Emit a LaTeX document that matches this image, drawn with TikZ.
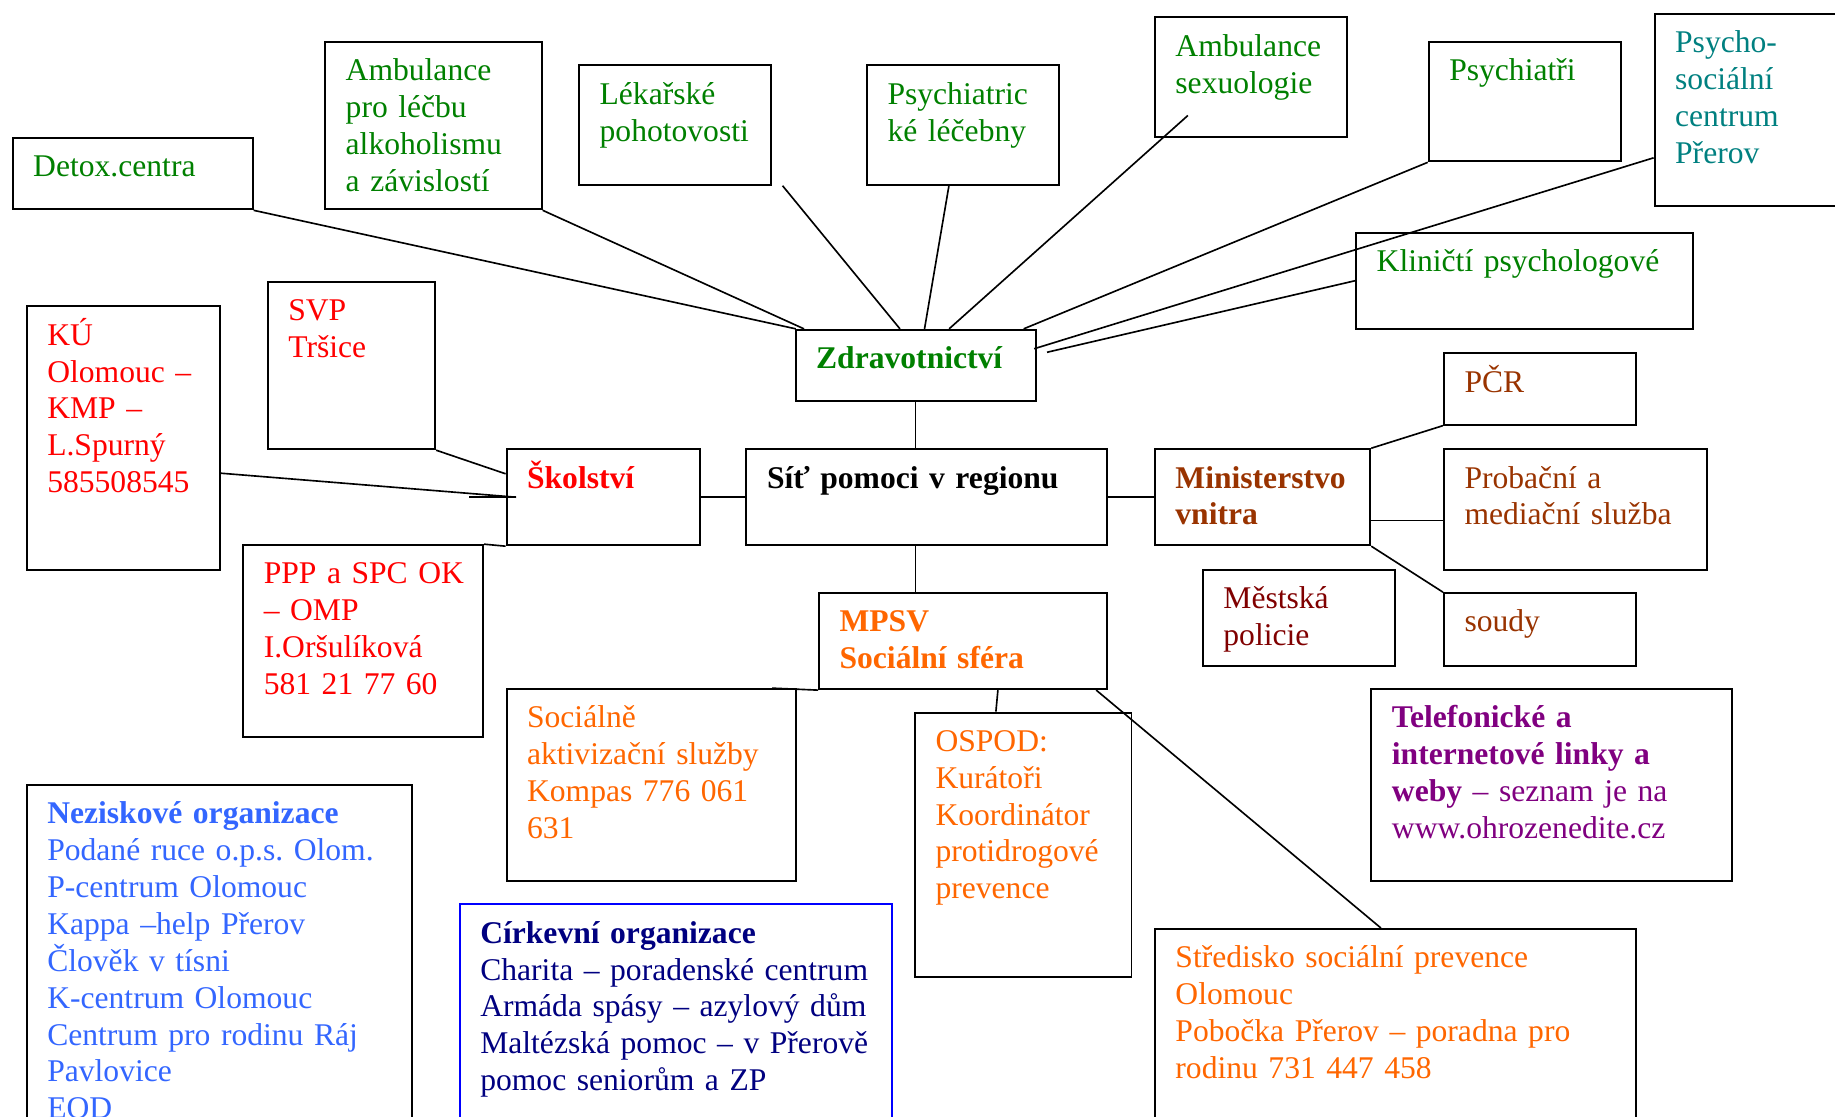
\documentclass[tikz,border=0pt]{standalone}
\usepackage{fontspec}
\setmainfont{Liberation Serif}[WordSpace=0.8]

\newcommand{\boxfont}{\fontsize{13.5pt}{15.75pt}\selectfont\frenchspacing}

\definecolor{zgreen}{HTML}{008000}
\definecolor{zteal}{HTML}{008080}
\definecolor{sred}{HTML}{FF0000}
\definecolor{sorange}{HTML}{FF6600}
\definecolor{mbrown}{HTML}{993300}
\definecolor{mmaroon}{HTML}{800000}
\definecolor{tpurple}{HTML}{800080}
\definecolor{nblue}{HTML}{3366FF}
\definecolor{cnavy}{HTML}{000080}
\definecolor{cblue}{HTML}{0000FF}

\begin{document}
\begin{tikzpicture}[x=0.5pt, y=-0.5pt,
  font=\boxfont,
  box/.style={draw, line width=0.85pt, anchor=north west, inner sep=0pt},
  sz/.style 2 args={minimum width=#1*0.5pt, minimum height=#2*0.5pt},
  lbl/.style={anchor=base west, inner sep=0pt, text width=200pt, align=left,
    xshift=9pt, yshift=-17pt},
  bold/.style={font=\boxfont\bfseries},
  link/.style={line width=0.7pt}]

  \useasboundingbox (0,0) rectangle (1568,954);
  \clip (0,0) rectangle (1568,954);

  % boxes of Zdravotnictvi
  \node[box, sz={205}{61}]  (detox)  at (10,117)   {};
  \node[box, sz={185}{143}] (alko)   at (277,35)   {};
  \node[box, sz={164}{102}] (lekar)  at (494,55)   {};
  \node[box, sz={164}{102}] (psyl)   at (740,55)   {};
  \node[box, sz={164}{102}] (sexu)   at (986,14)   {};
  \node[box, sz={164}{102}] (psychi) at (1220,35)  {};
  \node[box, sz={220}{164}] (psoc)   at (1413,11)  {};
  \node[box, sz={288}{82}]  (klin)   at (1158,198) {};
  \node[box, sz={205}{61}]  (zdrav)  at (679,281)  {};

  % Skolstvi
  \node[box, sz={143}{143}] (svp)  at (228,240) {};
  \node[box, sz={165}{225}] (ku)   at (22,261)  {};
  \node[box, sz={165}{82}]  (skol) at (432,383) {};
  \node[box, sz={205}{164}] (ppp)  at (207,465) {};

  % centre and Ministerstvo vnitra
  \node[box, sz={308}{82}]  (sit)   at (637,383)  {};
  \node[box, sz={184}{82}]  (mv)    at (986,383)  {};
  \node[box, sz={164}{61}]  (pcr)   at (1233,301) {};
  \node[box, sz={225}{103}] (prob)  at (1233,383) {};
  \node[box, sz={164}{82}]  (mpol)  at (1027,486) {};
  \node[box, sz={164}{62}]  (soudy) at (1233,506) {};

  % MPSV
  \node[box, sz={246}{82}]  (mpsv)  at (699,506)  {};
  \node[box, sz={247}{164}] (sas)   at (432,588)  {};
  \node[box, sz={185}{226}] (ospod) at (781,608)  {};
  \node[box, sz={411}{200}] (stred) at (986,793)  {};

  % the rest
  \node[box, sz={308}{164}] (tel)    at (1171,588) {};
  \node[box, sz={329}{300}] (nezisk) at (22,670)   {};
  \node[box, sz={369}{200}, draw=cblue] (cirk) at (392,772) {};

  % texts
  \node[lbl, text=zgreen] (detox-t)  at (detox.north west)  {Detox.centra};
  \node[lbl, text=zgreen] (alko-t)   at (alko.north west)   {Ambulance\\pro léčbu\\alkoholismu\\a závislostí};
  \node[lbl, text=zgreen] (lekar-t)  at (lekar.north west)  {Lékařské\\pohotovosti};
  \node[lbl, text=zgreen] (psyl-t)   at (psyl.north west)   {Psychiatric\\ké léčebny};
  \node[lbl, text=zgreen] (sexu-t)   at (sexu.north west)   {Ambulance\\sexuologie};
  \node[lbl, text=zgreen] (psychi-t) at (psychi.north west) {Psychiatři};
  \node[lbl, text=zteal]  (psoc-t)   at (psoc.north west)   {Psycho-\\sociální\\centrum\\Přerov};
  \node[lbl, text=zgreen] (klin-t)   at (klin.north west)   {Kliničtí psychologové};
  \node[lbl, bold, text=zgreen] (zdrav-t) at (zdrav.north west) {Zdravotnictví};

  \node[lbl, text=sred] (svp-t)  at (svp.north west)  {SVP\\Tršice};
  \node[lbl, text=sred] (ku-t)   at (ku.north west)   {KÚ\\Olomouc –\\KMP –\\L.Spurný\\585508545};
  \node[lbl, bold, text=sred] (skol-t) at (skol.north west) {Školství};
  \node[lbl, text=sred] (ppp-t)  at (ppp.north west)  {PPP a SPC OK\\– OMP\\I.Oršulíková\\581 21 77 60};

  \node[lbl, bold] (sit-t) at (sit.north west) {Síť pomoci v regionu};
  \node[lbl, bold, text=mbrown] (mv-t) at (mv.north west) {Ministerstvo\\vnitra};
  \node[lbl, text=mbrown]  (pcr-t)   at (pcr.north west)   {PČR};
  \node[lbl, text=mbrown]  (prob-t)  at (prob.north west)  {Probační a\\mediační služba};
  \node[lbl, text=mmaroon] (mpol-t)  at (mpol.north west)  {Městská\\policie};
  \node[lbl, text=mbrown]  (soudy-t) at (soudy.north west) {soudy};

  \node[lbl, bold, text=sorange] (mpsv-t) at (mpsv.north west) {MPSV\\Sociální sféra};
  \node[lbl, text=sorange] (sas-t)   at (sas.north west)   {Sociálně\\aktivizační služby\\Kompas 776 061\\631};
  \node[lbl, text=sorange] (ospod-t) at (ospod.north west) {OSPOD:\\Kurátoři\\Koordinátor\\protidrogové\\prevence};
  \node[lbl, text=sorange] (stred-t) at (stred.north west) {Středisko sociální prevence\\Olomouc\\Pobočka Přerov – poradna pro\\rodinu 731 447 458};

  \node[lbl, text=tpurple] (tel-t) at (tel.north west)
    {\textbf{Telefonické a}\\\textbf{internetové linky a}\\\textbf{weby} – seznam je na\\www.ohrozenedite.cz};
  \node[lbl, text=nblue] (nezisk-t) at (nezisk.north west)
    {\textbf{Neziskové organizace}\\Podané ruce o.p.s. Olom.\\P-centrum Olomouc\\Kappa –help Přerov\\Člověk v tísni\\K-centrum Olomouc\\Centrum pro rodinu Ráj\\Pavlovice\\EOD};
  \node[lbl, text=cnavy] (cirk-t) at (cirk.north west)
    {\textbf{Církevní organizace}\\Charita – poradenské centrum\\Armáda spásy – azylový dům\\Maltézská pomoc – v Přerově\\pomoc seniorům a ZP};

  % lines to Zdravotnictvi
  \draw[link] (detox.south east) -- ([shift={(1,0)}]zdrav.north west);
  \draw[link] (alko.south east) -- ([shift={(8,0)}]zdrav.north west);
  \draw[link] ([shift={(9,0)}]lekar.south east) -- ([shift={(90,0)}]zdrav.north west);
  \draw[link] ([shift={(-12,0)}]psyl.south) -- ([shift={(111,0)}]zdrav.north west);
  \draw[link] ([shift={(29,-19)}]sexu.south west) -- ([shift={(132,0)}]zdrav.north west);
  \draw[link] (psychi.south west) -- ([shift={(-11,0)}]zdrav.north east);
  \draw[link] ([shift={(0,41)}]psoc.west) -- ([shift={(-2,17)}]zdrav.north east);
  \draw[link] (klin.west) -- ([shift={(9,20)}]zdrav.north east);

  % spine
  \draw[link] (zdrav.south) -- (zdrav.south |- sit.north);
  \draw[link] (zdrav.south |- sit.south) -- (zdrav.south |- mpsv.north);
  \draw[link] (skol.east) -- (sit.west);
  \draw[link] (sit.east) -- (mv.west);

  % Skolstvi
  \draw[link] (svp.south east) -- ([shift={(0,-20)}]skol.west);
  \draw[link] ([shift={(0,30)}]ku.east) -- ([shift={(9,0)}]skol.west);
  \draw[link] ([shift={(-31,0)}]skol.west) -- ([shift={(9,0)}]skol.west);
  \draw[link] (ppp.north east) -- (skol.south west);

  % Ministerstvo vnitra
  \draw[link] (mv.north east) -- (pcr.south west);
  \draw[link] ([shift={(0,20)}]mv.east) -- ([shift={(0,9.5)}]prob.west);
  \draw[link] (mv.south east) -- (soudy.north west);

  % MPSV
  \draw[link] ([shift={(-21,0)}]sas.north east) -- (mpsv.south west);
  \draw[link] ([shift={(-94,0)}]mpsv.south east) -- ([shift={(70,0)}]ospod.north west);
  \draw[link] ([shift={(-10,0)}]mpsv.south east) -- ([shift={(194,0)}]stred.north west);

\end{tikzpicture}
\end{document}
